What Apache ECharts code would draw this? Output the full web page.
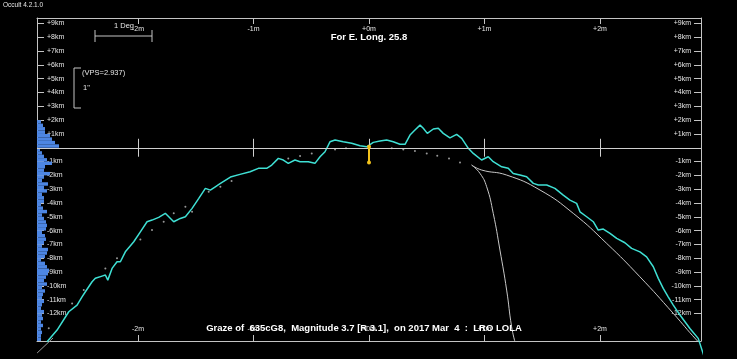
<!DOCTYPE html>
<html><head><meta charset="utf-8">
<script src="https://cdn.jsdelivr.net/npm/echarts@6/dist/echarts.min.js"></script>
<style>html,body{margin:0;padding:0;background:#000;}#c{width:737px;height:359px;}</style>
</head><body><div id="c"></div>
<script>
// ---- data (minutes along track, km across) ----
const minuteTicks = [-2, -1, 0, 1, 2];
const kmTicks = [-12,-11,-10,-9,-8,-7,-6,-5,-4,-3,-2,-1,1,2,3,4,5,6,7,8,9];

const profileX = [-2.788,-2.701,-2.600,-2.528,-2.485,-2.456,-2.398,-2.370,-2.312,-2.283,-2.262,-2.225,-2.182,-2.153,-2.110,-2.037,-1.980,-1.922,-1.879,-1.821,-1.764,-1.734,-1.691,-1.634,-1.590,-1.532,-1.474,-1.417,-1.374,-1.331,-1.290,-1.200,-1.117,-1.030,-0.958,-0.886,-0.842,-0.785,-0.742,-0.699,-0.641,-0.597,-0.526,-0.468,-0.424,-0.381,-0.338,-0.294,-0.223,-0.150,-0.078,-0.020,0.037,0.095,0.153,0.210,0.268,0.312,0.355,0.398,0.442,0.470,0.505,0.557,0.600,0.643,0.701,0.759,0.803,0.860,0.903,0.975,1.033,1.076,1.149,1.206,1.249,1.307,1.365,1.423,1.466,1.539,1.610,1.682,1.740,1.798,1.827,1.885,1.942,1.985,2.029,2.087,2.145,2.216,2.274,2.346,2.404,2.462,2.505,2.548,2.591,2.635,2.693,2.779,2.851,2.909];
const profileY = [-14.06,-13.21,-11.88,-11.40,-10.80,-10.43,-9.71,-9.46,-9.30,-9.22,-9.59,-8.74,-8.26,-8.26,-7.54,-6.81,-6.09,-5.36,-5.24,-5.04,-4.75,-5.00,-5.36,-5.12,-5.00,-4.39,-3.67,-2.94,-3.07,-2.83,-2.60,-2.12,-1.93,-1.74,-1.49,-1.49,-1.25,-0.77,-0.89,-1.13,-0.89,-1.01,-1.01,-1.13,-0.65,-0.29,0.43,0.56,0.43,0.32,0.14,0.07,0.39,0.49,0.56,0.43,0.25,0.25,0.92,1.28,1.64,1.41,1.04,1.36,1.41,1.04,0.72,0.97,0.68,-0.04,-0.41,-0.89,-0.65,-1.01,-1.38,-1.49,-1.86,-1.98,-2.10,-2.58,-2.70,-2.70,-2.94,-3.43,-3.79,-4.03,-4.64,-5.00,-5.36,-5.96,-5.89,-6.20,-6.57,-6.88,-7.29,-7.54,-7.90,-8.62,-9.46,-10.19,-10.80,-11.40,-12.12,-13.09,-13.81,-15.31];

const dotsX = [-2.773,-2.571,-2.470,-2.283,-2.182,-1.980,-1.879,-1.778,-1.691,-1.590,-1.532,-1.388,-1.287,-1.190,-0.699,-0.597,-0.496,-0.294,-0.199,0.197,0.297,0.398,0.500,0.591,0.693,0.788];
const dotsY = [-13.07,-11.28,-10.31,-8.74,-8.01,-6.64,-5.96,-5.36,-4.75,-4.28,-4.64,-3.19,-2.83,-2.41,-0.77,-0.60,-0.41,-0.12,-0.04,-0.04,-0.12,-0.24,-0.41,-0.58,-0.77,-1.07];

const limbAX = [0.889,0.961,1.019,1.076,1.134,1.192,1.235,1.264];
const limbAY = [-1.254,-1.855,-2.826,-4.754,-7.413,-10.31,-12.97,-14.06];
const limbBX = [0.889,0.976,1.192,1.481,1.769,2.058,2.346,2.635,2.837,2.900];
const limbBY = [-1.254,-1.616,-1.978,-3.065,-4.754,-6.928,-9.348,-12.00,-13.93,-14.40];
const limbCX = [-2.874,-2.736];
const limbCY = [-14.87,-13.78];

const starX = [0, 0];
const starY = [0.07, -1.06];

const histKm = [1.875,1.625,1.375,1.125,0.875,0.625,0.375,0.125,-0.125,-0.375,-0.625,-0.875,-1.125,-1.375,-1.625,-1.875,-2.125,-2.375,-2.625,-2.875,-3.125,-3.375,-3.625,-3.875,-4.125,-4.375,-4.625,-4.875,-5.125,-5.375,-5.625,-5.875,-6.125,-6.375,-6.625,-6.875,-7.125,-7.375,-7.625,-7.875,-8.125,-8.375,-8.625,-8.875,-9.125,-9.375,-9.625,-9.875,-10.125,-10.375,-10.625,-10.875,-11.125,-11.375,-11.625,-11.875,-12.125,-12.375,-12.625,-12.875,-13.125,-13.375,-13.625,-13.875];
const histCount = [4,6,8,8,13,15,18,22,3,5,7,10,15,8,7,13,7,5,11,7,10,5,7,7,4,6,10,5,7,9,10,9,5,8,9,7,5,11,10,8,4,8,10,12,11,9,7,10,5,8,6,5,7,5,4,7,5,6,4,6,4,5,4,4];

// ---- chart ----
const zip = (a, b) => a.map((v, i) => [v, b[i]]);
const fmtMin = v => (v > 0 ? '+' + v : v === 0 ? '+0' : '' + v) + 'm';
const fmtKm = v => (v > 0 ? '+' + v : '' + v) + 'km';
const axisCol = '#c4c4c4';
const txtCol = '#e6e6e6';
const lblFont = {fontSize: 7, fontFamily: 'Arial, Liberation Sans', color: txtCol};

function xAx(pos) {
  return {type: 'value', position: pos, min: -2.875, max: 2.875,
    axisLine: {show: true, onZero: false, lineStyle: {color: axisCol, width: 1}},
    axisTick: {show: true, inside: true, length: 6, customValues: minuteTicks, lineStyle: {color: axisCol}},
    axisLabel: Object.assign({show: true, inside: true, margin: 8, customValues: minuteTicks, formatter: fmtMin}, lblFont),
    splitLine: {show: false}};
}
function yAx(pos) {
  return {type: 'value', position: pos, min: -14, max: 9.4,
    axisLine: {show: true, onZero: false, lineStyle: {color: axisCol, width: 1}},
    axisTick: {show: true, inside: true, length: 7, customValues: kmTicks, lineStyle: {color: axisCol}},
    axisLabel: Object.assign({show: true, inside: true, margin: 10, customValues: kmTicks, formatter: fmtKm}, lblFont),
    splitLine: {show: false}};
}

const chart = echarts.init(document.getElementById('c'), null, {renderer: 'canvas'});
const minuteMarks = minuteTicks.map(m => [{coord: [m, 0.65]}, {coord: [m, -0.65]}]);

chart.setOption({
  backgroundColor: '#000',
  animation: false,
  grid: {left: 37, right: 36, top: 18, bottom: 18, containLabel: false, outerBoundsMode: 'none'},
  xAxis: [xAx('top'), xAx('bottom'),
    {type: 'value', min: 0, max: 664, show: false, position: 'bottom', axisLine: {onZero: false}}],
  yAxis: [yAx('left'), yAx('right')],
  series: [
    {type: 'custom', xAxisIndex: 2, yAxisIndex: 0, silent: true, z: 1,
      data: zip(histCount, histKm),
      encode: {x: 0, y: 1},
      renderItem: function (params, api) {
        const c = api.value(0), k = api.value(1);
        const p0 = api.coord([0, k + 0.125]);
        const p1 = api.coord([c, k - 0.125]);
        return {type: 'rect', shape: {x: p0[0], y: p0[1], width: p1[0] - p0[0], height: p1[1] - p0[1]},
          style: {fill: '#4d86e3'}};
      }},
    {type: 'line', data: [], silent: true, z: 2,
      markLine: {silent: true, symbol: 'none', label: {show: false}, animation: false,
        lineStyle: {color: '#cfcfcf', width: 1, type: 'solid'},
        data: [{yAxis: 0}].concat(minuteMarks)}},
    {type: 'scatter', data: zip(dotsX, dotsY), symbol: 'circle', symbolSize: 2,
      itemStyle: {color: '#bdbdbd'}, silent: true, z: 3},
    {type: 'line', data: zip(limbAX, limbAY), smooth: true, showSymbol: false, clip: false,
      lineStyle: {color: '#c8c8c8', width: 1}, silent: true, z: 3},
    {type: 'line', data: zip(limbBX, limbBY), smooth: true, showSymbol: false, clip: true,
      lineStyle: {color: '#c8c8c8', width: 1}, silent: true, z: 3},
    {type: 'line', data: zip(limbCX, limbCY), showSymbol: false, clip: false,
      lineStyle: {color: '#9a9a9a', width: 1}, silent: true, z: 3},
    {type: 'line', data: zip(profileX, profileY), showSymbol: false, clip: false,
      lineStyle: {color: '#3fe0d4', width: 1.5}, silent: true, z: 4},
    {type: 'line', data: zip(starX, starY), symbol: 'circle', symbolSize: 4, showSymbol: true,
      lineStyle: {color: '#f2c21b', width: 2}, itemStyle: {color: '#f2c21b'}, silent: true, z: 5}
  ],
  graphic: [
    {type: 'text', left: 3, top: 2, style: {text: 'Occult 4.2.1.0', fill: txtCol, font: '6.5px Arial, Liberation Sans'}},
    {type: 'text', x: 369, y: 37, style: {text: 'For E. Long. 25.8', fill: '#ffffff', font: 'bold 9.5px Arial, Liberation Sans', align: 'center', verticalAlign: 'middle'}},
    {type: 'text', x: 114, y: 26, style: {text: '1 Deg', fill: txtCol, font: '7.5px Arial, Liberation Sans', verticalAlign: 'middle'}},
    {type: 'polyline', shape: {points: [[95, 30], [95, 42]]}, style: {stroke: axisCol, lineWidth: 1}},
    {type: 'polyline', shape: {points: [[95, 36], [152, 36]]}, style: {stroke: axisCol, lineWidth: 1}},
    {type: 'polyline', shape: {points: [[152, 30], [152, 42]]}, style: {stroke: axisCol, lineWidth: 1}},
    {type: 'polyline', shape: {points: [[81, 68], [74, 68], [74, 108], [81, 108]]}, style: {stroke: axisCol, lineWidth: 1, fill: null}},
    {type: 'text', x: 82, y: 72.5, style: {text: '(VPS=2.937)', fill: txtCol, font: '7.5px Arial, Liberation Sans', verticalAlign: 'middle'}},
    {type: 'text', x: 83, y: 88, style: {text: '1"', fill: txtCol, font: '7.5px Arial, Liberation Sans', verticalAlign: 'middle'}},
    {type: 'text', x: 364, y: 328, z: 100, style: {text: 'Graze of  635cG8,  Magnitude 3.7 [R 3.1],  on 2017 Mar  4  :  LRO LOLA', fill: '#ffffff', font: 'bold 9.5px Arial, Liberation Sans', align: 'center', verticalAlign: 'middle'}}
  ]
});
</script>
</body></html>
